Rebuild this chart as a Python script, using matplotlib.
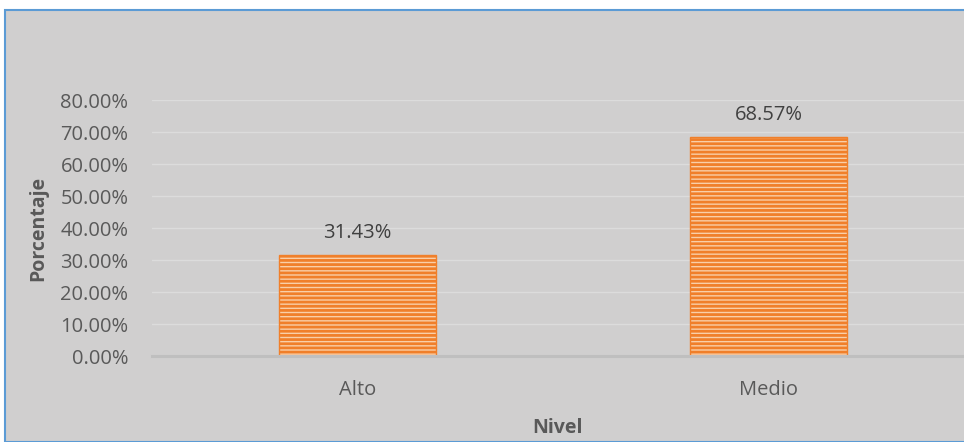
import matplotlib.pyplot as plt
from matplotlib.patches import Rectangle

# Datos
niveles = ['Alto', 'Medio']
porcentajes = [31.43, 68.57]
ticks_y = [0, 10, 20, 30, 40, 50, 60, 70, 80]

plt.rcParams['font.family'] = ['Open Sans', 'DejaVu Sans']
plt.rcParams['hatch.color'] = '#f07f2a'
plt.rcParams['hatch.linewidth'] = 2.0

W, H = 964, 442
fig = plt.figure(figsize=(W / 100, H / 100), dpi=100)
fig.patch.set_facecolor('white')

# Fondo gris con borde azul
fig.patches.append(Rectangle((5 / W, 0), 1, 1 - 10 / H, transform=fig.transFigure,
                             facecolor='#d0cfcf', edgecolor='#5b9bd5', linewidth=1.5,
                             zorder=-10))

ax = fig.add_axes([152 / W, (H - 356) / H, (W - 152) / W, 256 / H])
ax.set_facecolor('none')
ax.set_zorder(5)

x = range(len(niveles))
ax.bar(x, porcentajes, width=0.382, color='#f9cfa8', edgecolor='#f07f2a',
       hatch='----', linewidth=1.0, zorder=3)

for i, v in enumerate(porcentajes):
    ax.text(i, v + 5.3, f'{v:.2f}%', ha='center', va='baseline', fontsize=14.5,
            color='#404040')

ax.set_xlim(-0.5, (W - 357.5) / 411)
ax.set_ylim(0, 80)
ax.set_yticks(ticks_y)
ax.set_yticklabels([f'{t:.2f}%' for t in ticks_y])
ax.set_xticks(list(x))
ax.set_xticklabels(niveles)
ax.grid(axis='y', color='#dcdcdc', linewidth=1, zorder=1)
ax.set_axisbelow(True)

for s in ['top', 'right', 'left']:
    ax.spines[s].set_visible(False)
ax.spines['bottom'].set_color('#bfbfbf')
ax.spines['bottom'].set_linewidth(2.2)
ax.spines['bottom'].set_zorder(4)

ax.tick_params(axis='both', length=0, labelsize=14.5, labelcolor='#595959')
ax.tick_params(axis='y', pad=17)
ax.tick_params(axis='x', pad=17)

ax.set_ylabel('Porcentaje', fontsize=14, fontweight='bold', color='#595959', labelpad=9)
ax.set_xlabel('Nivel', fontsize=14, fontweight='bold', color='#595959', labelpad=13)

fig.savefig('out.png', dpi=100)
